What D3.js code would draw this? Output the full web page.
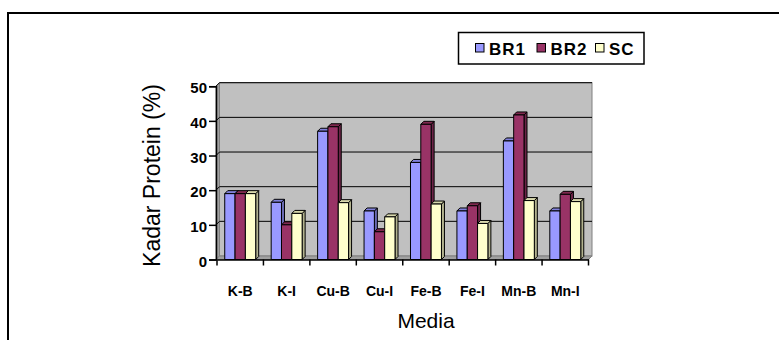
<!DOCTYPE html>
<html>
<head>
<meta charset="utf-8">
<script src="https://cdn.jsdelivr.net/npm/d3@7"></script>
<style>
  html, body { margin: 0; padding: 0; background: #fff; }
  svg { display: block; font-family: "Liberation Sans", Arial, sans-serif; }
</style>
</head>
<body>
<svg id="chart" width="779" height="340"></svg>
<script>
// Protein content (%) per medium for three strains
const categories = ["K-B", "K-I", "Cu-B", "Cu-I", "Fe-B", "Fe-I", "Mn-B", "Mn-I"];
const seriesNames = ["BR1", "BR2", "SC"];
const br1 = [19, 16.5, 37, 14, 28, 14, 34.2, 14];
const br2 = [19, 10, 38.3, 8, 39, 15.5, 41.7, 18.8];
const sc = [19, 13.3, 16.4, 12.3, 16, 10.4, 17, 16.7];
const yTicks = [0, 10, 20, 30, 40, 50];

const values = [br1, br2, sc];
const colors = {
  BR1: { front: "#9999ff", side: "#6b6bb3", top: "#8080d9" },
  BR2: { front: "#993366", side: "#6b2447", top: "#80294f" },
  SC:  { front: "#ffffcc", side: "#b3b38f", top: "#d9d9ad" }
};

const svg = d3.select("#chart");

// outer frame (top and left edges)
svg.append("path")
  .attr("d", "M8,340 V13 H779")
  .attr("fill", "none").attr("stroke", "#000").attr("stroke-width", 2);

// 3D offsets of the back wall relative to the front plane
const dx = 3.5, dy = -3.5;
const bdx = 3, bdy = -3;

const x0 = d3.scaleBand().domain(categories).range([217, 588.5]).paddingInner(0).paddingOuter(0);
const x1 = d3.scaleBand().domain(seriesNames).range([0, x0.bandwidth()]).paddingInner(0).paddingOuter(0.75);
const y = d3.scaleLinear().domain([0, 50]).range([259.5, 86.2]);

const left = x0.range()[0] - 1, right = x0.range()[1];

// back wall
svg.append("rect")
  .attr("x", left + dx).attr("y", y(50) + dy)
  .attr("width", right - left).attr("height", y(0) - y(50))
  .attr("fill", "#c0c0c0").attr("stroke", "#808080").attr("stroke-width", 1);

// left side wall
svg.append("path")
  .attr("d", `M${left},${y(0)} L${left},${y(50)} L${left + dx},${y(50) + dy} L${left + dx},${y(0) + dy} Z`)
  .attr("fill", "#a0a0a0").attr("stroke", "#808080").attr("stroke-width", 1);

// floor
svg.append("path")
  .attr("d", `M${left},${y(0)} L${right},${y(0)} L${right + dx},${y(0) + dy} L${left + dx},${y(0) + dy} Z`)
  .attr("fill", "#a0a0a0").attr("stroke", "#808080").attr("stroke-width", 1);

// gridlines on back wall and left wall
const grid = svg.append("g").attr("stroke", "#000").attr("stroke-width", 1).attr("fill", "none");
yTicks.filter(v => v > 0).forEach(v => {
  grid.append("path")
    .attr("d", `M${left},${y(v)} L${left + dx},${y(v) + dy} H${right + dx}`);
});

// bars: front, top and right side faces
const bars = svg.append("g").attr("stroke", "#000").attr("stroke-width", 1).attr("stroke-linejoin", "round");
categories.forEach((cat, i) => {
  seriesNames.forEach((s, j) => {
    const v = values[j][i];
    const xl = x0(cat) + x1(s);
    const xr = xl + x1.bandwidth();
    const yt = y(v), yb = y(0);
    const c = colors[s];
    bars.append("path")
      .attr("d", `M${xr},${yb} L${xr},${yt} L${xr + bdx},${yt + bdy} L${xr + bdx},${yb + bdy} Z`)
      .attr("fill", c.side);
    bars.append("path")
      .attr("d", `M${xl},${yt} L${xr},${yt} L${xr + bdx},${yt + bdy} L${xl + bdx},${yt + bdy} Z`)
      .attr("fill", c.top);
    bars.append("rect")
      .attr("x", xl).attr("y", yt)
      .attr("width", x1.bandwidth()).attr("height", yb - yt)
      .attr("fill", c.front);
  });
});

// y axis
const yAxis = svg.append("g").attr("transform", `translate(${left},0)`)
  .call(d3.axisLeft(y).tickValues(yTicks).tickSize(7).tickPadding(2).tickFormat(d3.format("d")));
yAxis.select(".domain").attr("stroke", "#000").attr("stroke-width", 1.5);
yAxis.selectAll(".tick line").attr("stroke", "#000").attr("stroke-width", 1.5);
yAxis.selectAll(".tick text")
  .attr("font-family", "'Liberation Sans', Arial, sans-serif")
  .attr("font-size", 15).attr("font-weight", "bold").attr("fill", "#000").attr("dy", "0.45em");

// x axis
const xAxis = svg.append("g").attr("transform", `translate(0,${y(0)})`)
  .call(d3.axisBottom(x0).tickSize(0).tickPadding(27));
xAxis.select(".domain").attr("stroke", "#000").attr("stroke-width", 1.5);
xAxis.selectAll(".tick text")
  .attr("font-family", "'Liberation Sans', Arial, sans-serif")
  .attr("font-size", 14).attr("font-weight", "bold").attr("fill", "#000");
// category separator ticks
xAxis.selectAll(".sep").data(d3.range(categories.length + 1)).enter().append("line")
  .attr("class", "sep")
  .attr("x1", k => x0.range()[0] + k * x0.step()).attr("x2", k => x0.range()[0] + k * x0.step())
  .attr("y1", 0).attr("y2", 6)
  .attr("stroke", "#000").attr("stroke-width", 1.5);

// axis titles
svg.append("text")
  .attr("x", 426).attr("y", 328)
  .attr("text-anchor", "middle").attr("font-size", 21).attr("fill", "#000")
  .text("Media");
svg.append("text")
  .attr("transform", "translate(160,175.5) rotate(-90)")
  .attr("text-anchor", "middle").attr("font-size", 23).attr("fill", "#000")
  .text("Kadar Protein (%)");

// legend
const legend = svg.append("g");
legend.append("rect")
  .attr("x", 458.5).attr("y", 32.5).attr("width", 185.5).attr("height", 31.5)
  .attr("fill", "#fff").attr("stroke", "#000").attr("stroke-width", 1.5);
const legendX = [475.5, 537, 595.5];
seriesNames.forEach((s, j) => {
  legend.append("rect")
    .attr("x", legendX[j]).attr("y", 43.5).attr("width", 8.5).attr("height", 8.5)
    .attr("fill", colors[s].front).attr("stroke", "#000").attr("stroke-width", 1);
  legend.append("text")
    .attr("x", legendX[j] + 13.5).attr("y", 54.5)
    .attr("font-size", 17).attr("font-weight", "bold").attr("letter-spacing", 1).attr("fill", "#000")
    .text(s);
});
</script>
</body>
</html>
